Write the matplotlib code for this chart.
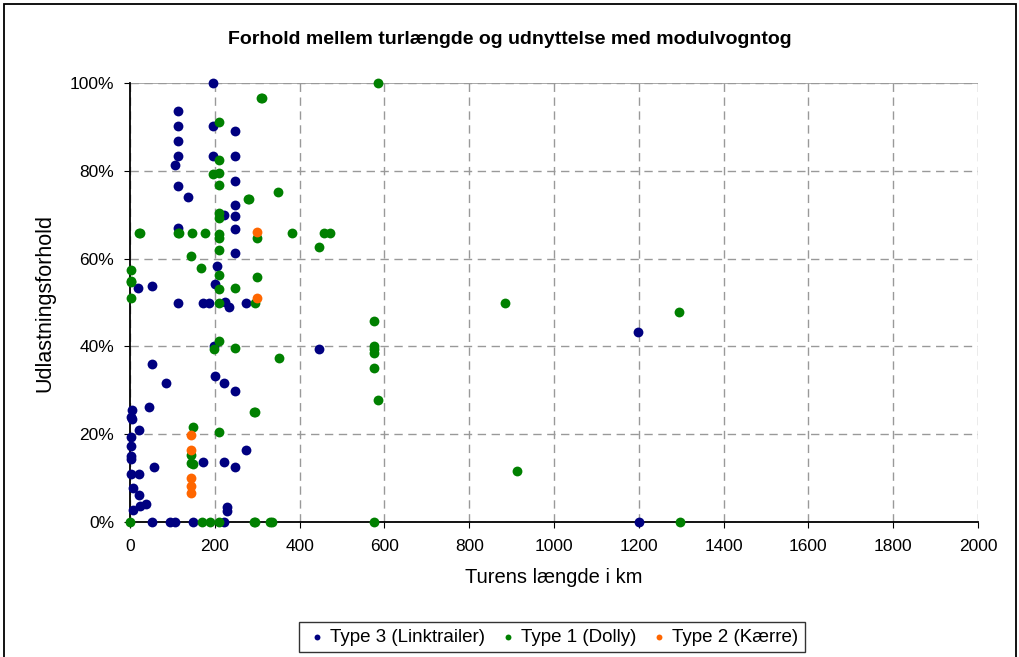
"""
Forhold mellem turlængde og udnyttelse med modulvogntog - scatter
"""

import matplotlib
matplotlib.use("Agg")
import matplotlib.pyplot as plt
from matplotlib.patches import Rectangle
from matplotlib.ticker import FuncFormatter

plt.rcParams['font.family'] = ['Liberation Sans', 'DejaVu Sans']

# Type 3 (Linktrailer): turlængde km, udlastning %
type3_km = [196, 113, 113, 196, 248, 113, 113, 196, 248, 106, 113, 248, 137, 248, 222,
            248, 113, 248, 248, 205, 200, 19, 52, 113, 172, 186, 224, 233, 274, 198,
            446, 52, 200, 85, 222, 248, 45, 5, 2, 5, 21, 2, 2, 2, 2, 57, 172, 222, 248,
            274, 2, 21, 7, 21, 38, 24, 7, 229, 229, 52, 94, 106, 148, 222, 1198, 1200]
type3_pct = [100, 93.6, 90.2, 90.2, 89.0, 86.8, 83.3, 83.3, 83.3, 81.3, 76.5, 77.6, 74.0,
             72.1, 69.9, 69.6, 66.9, 66.7, 61.2, 58.4, 54.3, 53.2, 53.7, 50.0, 50.0, 50.0,
             50.2, 48.9, 50.0, 40.0, 39.3, 36.1, 33.3, 31.7, 31.7, 29.9, 26.3, 25.6, 24.0,
             23.5, 21.0, 19.4, 17.4, 15.1, 14.4, 12.6, 13.7, 13.7, 12.6, 16.4, 11.0, 11.0,
             7.8, 6.2, 4.1, 3.7, 2.7, 3.4, 2.5, 0, 0, 0, 0, 0, 43.2, 0]

# Type 1 (Dolly)
type1_km = [308, 311, 210, 210, 196, 210, 210, 349, 278, 280, 210, 210, 21, 24, 113, 116,
            146, 177, 210, 210, 300, 382, 458, 472, 446, 210, 144, 2, 167, 210, 300, 2, 2,
            210, 248, 2, 210, 295, 210, 198, 248, 351, 575, 575, 575, 575, 575, 585, 585,
            884, 1295, 913, 292, 295, 149, 210, 144, 144, 149, 0, 170, 189, 210, 292, 295,
            330, 334, 575, 1297]
type1_pct = [96.6, 96.6, 91.1, 82.4, 79.2, 79.5, 76.7, 75.1, 73.5, 73.5, 70.5, 69.2, 65.8,
             65.8, 65.8, 65.8, 65.8, 65.8, 65.5, 64.6, 64.8, 65.8, 65.8, 65.8, 62.6, 61.9,
             60.5, 57.5, 57.8, 56.2, 55.7, 55.0, 54.6, 53.0, 53.4, 51.1, 49.8, 49.8, 41.3,
             39.5, 39.7, 37.4, 45.7, 40.0, 39.3, 38.4, 35.0, 27.9, 100, 49.8, 47.9, 11.7,
             25.1, 25.1, 21.7, 20.5, 15.3, 13.5, 13.3, 0, 0, 0, 0, 0, 0, 0, 0, 0, 0]

# Type 2 (Kærre)
type2_km = [300, 300, 144, 144, 144, 144, 144]
type2_pct = [66.0, 51.1, 19.9, 16.4, 10.0, 8.3, 6.6]

fig = plt.figure(figsize=(10.2, 6.57), dpi=100)
ax = fig.add_axes([130 / 1020, 1 - 522 / 657, 848 / 1020, 439 / 657])

ax.scatter(type3_km, type3_pct, s=50, color="#000080", label="Type 3 (Linktrailer)",
           zorder=3, clip_on=False, linewidths=0)
ax.scatter(type1_km, type1_pct, s=50, color="#008000", label="Type 1 (Dolly)",
           zorder=4, clip_on=False, linewidths=0)
ax.scatter(type2_km, type2_pct, s=50, color="#FF6600", label="Type 2 (Kærre)",
           zorder=5, clip_on=False, linewidths=0)

ax.set_xlim(0, 2000)
ax.set_ylim(0, 100)
ax.set_xticks(range(0, 2001, 200))
ax.set_yticks(range(0, 101, 20))
ax.yaxis.set_major_formatter(FuncFormatter(lambda v, p: f"{int(v)}%"))
ax.tick_params(direction="out", length=4.5, labelsize=12.5, color="black")
ax.tick_params(axis="x", pad=8)
ax.tick_params(axis="y", pad=7)

ax.grid(True, linestyle=(0, (6, 4)), color="#999999", linewidth=1)
ax.axhline(100, color="#999999", linewidth=1.2, zorder=1)
ax.set_axisbelow(True)
for side in ["top", "right"]:
    ax.spines[side].set_visible(False)
for side in ["left", "bottom"]:
    ax.spines[side].set_linewidth(1.3)

ax.set_xlabel("Turens længde i km", fontsize=14.5, labelpad=10)
ax.set_ylabel("Udlastningsforhold", fontsize=15.5, labelpad=10)
fig.text(0.5, 1 - 40 / 657, "Forhold mellem turlængde og udnyttelse med modulvogntog",
         ha="center", va="center", fontsize=14, fontweight="bold")

leg = fig.legend(loc="center", bbox_to_anchor=(552 / 1020, 1 - 637 / 657), ncol=3,
                 frameon=True, fancybox=False, edgecolor="black", fontsize=13.5,
                 handletextpad=0.1, columnspacing=0.6, markerscale=0.6, borderpad=0.35,
                 handlelength=1.2)
leg.get_frame().set_linewidth(1)

fig.patches.append(Rectangle((4 / 1020, -0.01), 1012 / 1020, 1 - 4 / 657 + 0.01,
                             transform=fig.transFigure, fill=False,
                             edgecolor="black", linewidth=1.3))

fig.savefig("out.png", dpi=100)
